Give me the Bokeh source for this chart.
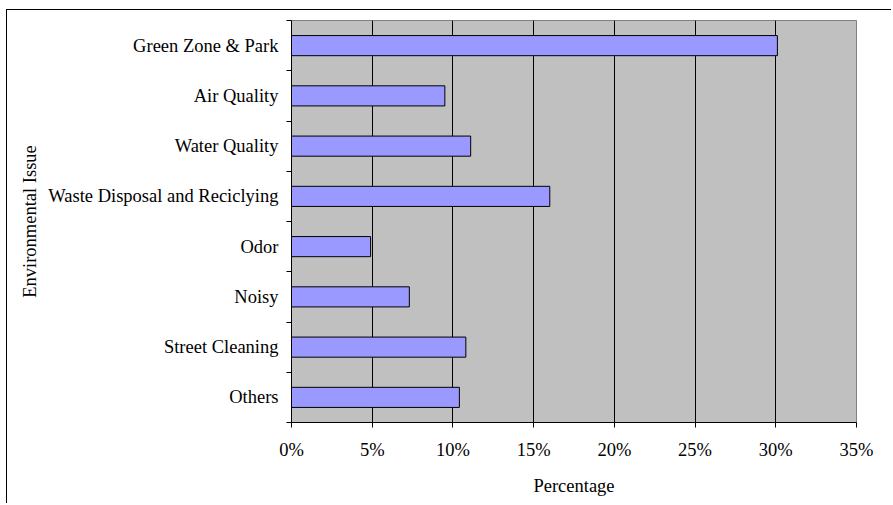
from bokeh.plotting import figure
from bokeh.models import FixedTicker, ColumnDataSource, Range1d
from bokeh.embed import file_html
from bokeh.resources import INLINE

categories = ["Others", "Street Cleaning", "Noisy", "Odor",
              "Waste Disposal and Reciclying", "Water Quality", "Air Quality",
              "Green Zone & Park"]
values = [10.4, 10.8, 7.3, 4.9, 16.0, 11.1, 9.5, 30.1]
x_ticks = [0, 5, 10, 15, 20, 25, 30, 35]
x_tick_labels = ["0%", "5%", "10%", "15%", "20%", "25%", "30%", "35%"]

ypos = [i + 0.5 for i in range(len(categories))]
src = ColumnDataSource(dict(y=ypos, v=values, cat=categories))

FONT = "Liberation Serif"

p = figure(width=885, height=494, output_backend="svg", toolbar_location=None,
           x_range=Range1d(0, 35), y_range=Range1d(0, len(categories)),
           min_border_left=284, min_border_right=36, min_border_top=10,
           min_border_bottom=82)
p.margin = (9, 0, 0, 6)
p.styles = {"border-top": "1px solid black", "border-left": "1px solid black"}
p.background_fill_color = "#C0C0C0"
p.border_fill_color = "white"
p.outline_line_color = "#808080"
p.outline_line_width = 1

p.hbar(y="y", right="v", left=0, height=0.4, source=src,
       fill_color="#9999FF", line_color="black", line_width=1)

# x axis
p.xaxis.ticker = FixedTicker(ticks=x_ticks)
p.xaxis.major_label_overrides = {t: l for t, l in zip(x_ticks, x_tick_labels)}
p.xaxis.axis_label = "Percentage"
p.xaxis.major_tick_out = 5
p.xaxis.major_tick_in = 0
p.xaxis.minor_tick_out = 0
p.xaxis.minor_tick_in = 0
p.xaxis.major_label_standoff = 12
p.xaxis.axis_label_standoff = 13

# y axis
p.yaxis.ticker = FixedTicker(ticks=ypos, minor_ticks=list(range(len(categories) + 1)))
p.yaxis.major_label_overrides = {y: c for y, c in zip(ypos, categories)}
p.yaxis.axis_label = "Environmental Issue"
p.yaxis.major_tick_out = 0
p.yaxis.major_tick_in = 0
p.yaxis.minor_tick_out = 5
p.yaxis.minor_tick_in = 0
p.yaxis.major_label_standoff = 8
p.yaxis.axis_label_standoff = 5

for ax in (p.xaxis, p.yaxis):
    ax.axis_line_color = "black"
    ax.major_tick_line_color = "black"
    ax.minor_tick_line_color = "black"
    ax.major_label_text_font = FONT
    ax.major_label_text_font_size = "18.5px"
    ax.major_label_text_color = "black"
    ax.axis_label_text_font = FONT
    ax.axis_label_text_font_size = "18.5px"
    ax.axis_label_text_font_style = "normal"
    ax.axis_label_text_color = "black"

p.xgrid.grid_line_color = "black"
p.xgrid.grid_line_width = 1
p.ygrid.grid_line_color = None

open("out.html", "w").write(file_html(p, INLINE))
